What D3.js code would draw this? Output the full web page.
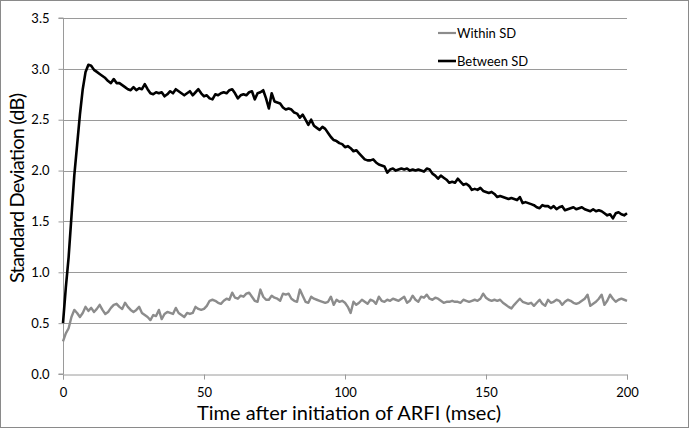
<!DOCTYPE html>
<html>
<head>
<meta charset="utf-8">
<script src="https://cdn.jsdelivr.net/npm/d3@7"></script>
<style>
  html, body { margin: 0; padding: 0; background: #fff; }
  svg { display: block; font-family: Lato, "Open Sans", sans-serif; }
</style>
</head>
<body>
<div id="chart"></div>
<script>
// time after ARFI (msec), one sample per msec
const timeMs = d3.range(0, 201);

const betweenSD = [
  0.50, 0.85, 1.15, 1.55, 1.95, 2.25, 2.55, 2.80, 2.97, 3.04,
  3.03, 2.99, 2.97, 2.95, 2.93, 2.91, 2.88, 2.86, 2.90, 2.86,
  2.86, 2.84, 2.82, 2.80, 2.79, 2.82, 2.79, 2.81, 2.80, 2.85,
  2.80, 2.76, 2.75, 2.77, 2.76, 2.77, 2.73, 2.75, 2.78, 2.76,
  2.80, 2.78, 2.76, 2.74, 2.76, 2.78, 2.74, 2.77, 2.80, 2.76,
  2.73, 2.74, 2.71, 2.70, 2.75, 2.74, 2.76, 2.77, 2.76, 2.79,
  2.80, 2.76, 2.71, 2.74, 2.75, 2.74, 2.77, 2.78, 2.70, 2.76,
  2.77, 2.79, 2.71, 2.61, 2.76, 2.68, 2.67, 2.66, 2.62, 2.60,
  2.61, 2.60, 2.57, 2.56, 2.52, 2.55, 2.50, 2.45, 2.50, 2.44,
  2.42, 2.40, 2.43, 2.41, 2.37, 2.33, 2.30, 2.29, 2.27, 2.26,
  2.23, 2.24, 2.22, 2.19, 2.20, 2.17, 2.14, 2.11, 2.10, 2.10,
  2.11, 2.08, 2.06, 2.05, 2.04, 1.98, 2.01, 2.02, 2.00, 2.01,
  2.02, 2.01, 2.02, 2.00, 2.01, 2.00, 2.01, 2.00, 1.99, 2.02,
  2.01, 1.97, 1.95, 1.92, 1.95, 1.93, 1.91, 1.88, 1.89, 1.88,
  1.92, 1.89, 1.86, 1.87, 1.85, 1.81, 1.82, 1.81, 1.83, 1.80,
  1.79, 1.78, 1.79, 1.77, 1.74, 1.75, 1.74, 1.73, 1.72, 1.73,
  1.72, 1.71, 1.74, 1.68, 1.69, 1.68, 1.67, 1.66, 1.64, 1.63,
  1.66, 1.65, 1.65, 1.63, 1.65, 1.62, 1.64, 1.65, 1.61, 1.62,
  1.63, 1.64, 1.62, 1.63, 1.64, 1.62, 1.61, 1.60, 1.62, 1.60,
  1.61, 1.60, 1.58, 1.56, 1.57, 1.53, 1.58, 1.59, 1.57, 1.56,
  1.58
];

const withinSD = [
  0.32, 0.40, 0.45, 0.56, 0.63, 0.60, 0.56, 0.60, 0.66, 0.62,
  0.65, 0.61, 0.64, 0.68, 0.63, 0.59, 0.61, 0.65, 0.68, 0.69,
  0.66, 0.64, 0.70, 0.66, 0.63, 0.61, 0.63, 0.66, 0.60, 0.58,
  0.56, 0.53, 0.58, 0.57, 0.63, 0.54, 0.59, 0.61, 0.60, 0.59,
  0.65, 0.60, 0.58, 0.56, 0.60, 0.59, 0.60, 0.66, 0.64, 0.63,
  0.64, 0.67, 0.72, 0.73, 0.72, 0.70, 0.69, 0.72, 0.74, 0.73,
  0.80, 0.75, 0.74, 0.77, 0.76, 0.79, 0.80, 0.76, 0.72, 0.71,
  0.83, 0.76, 0.73, 0.73, 0.77, 0.75, 0.74, 0.72, 0.79, 0.78,
  0.79, 0.74, 0.72, 0.71, 0.83, 0.77, 0.71, 0.70, 0.76, 0.74,
  0.73, 0.72, 0.71, 0.70, 0.71, 0.76, 0.68, 0.73, 0.71, 0.72,
  0.70, 0.66, 0.60, 0.71, 0.68, 0.70, 0.73, 0.71, 0.69, 0.73,
  0.72, 0.69, 0.76, 0.72, 0.71, 0.73, 0.72, 0.74, 0.73, 0.72,
  0.74, 0.76, 0.70, 0.72, 0.77, 0.73, 0.71, 0.76, 0.75, 0.78,
  0.74, 0.73, 0.75, 0.74, 0.72, 0.70, 0.71, 0.71, 0.72, 0.71,
  0.71, 0.70, 0.73, 0.72, 0.71, 0.72, 0.73, 0.72, 0.74, 0.79,
  0.75, 0.73, 0.72, 0.73, 0.72, 0.73, 0.70, 0.68, 0.66, 0.645,
  0.68, 0.71, 0.74, 0.71, 0.70, 0.69, 0.70, 0.67, 0.70, 0.73,
  0.69, 0.67, 0.73, 0.70, 0.71, 0.73, 0.72, 0.68, 0.71, 0.73,
  0.72, 0.70, 0.69, 0.70, 0.72, 0.74, 0.78, 0.67, 0.69, 0.71,
  0.74, 0.78, 0.68, 0.72, 0.78, 0.74, 0.71, 0.73, 0.74, 0.73,
  0.72
];

const xTicks = [0, 50, 100, 150, 200];
const yTicks = [0, 0.5, 1.0, 1.5, 2.0, 2.5, 3.0, 3.5];

const seriesList = [
  { name: 'Within SD', values: withinSD, color: '#8c8c8c' },
  { name: 'Between SD', values: betweenSD, color: '#000000' }
];

const width = 689;
const height = 428;
const margin = { top: 18, right: 62, bottom: 54, left: 63 };

const svg = d3.select('#chart')
  .append('svg')
  .attr('width', width)
  .attr('height', height);

// outer frame
svg.append('rect')
  .attr('x', 0.5).attr('y', 0.5)
  .attr('width', width - 1).attr('height', height - 1)
  .attr('fill', '#fff')
  .attr('stroke', '#8a8a8a');

const x = d3.scaleLinear().domain([0, 200]).range([margin.left, width - margin.right]);
const y = d3.scaleLinear().domain([0, 3.5]).range([height - margin.bottom, margin.top]);

// gridlines
svg.append('g')
  .selectAll('line')
  .data(yTicks.filter(d => d > 0))
  .join('line')
  .attr('x1', x(0)).attr('x2', x(200))
  .attr('y1', d => Math.round(y(d)) + 0.5).attr('y2', d => Math.round(y(d)) + 0.5)
  .attr('stroke', '#9a9a9a')
  .attr('stroke-width', 1);

// axes
const yAxis = svg.append('g')
  .attr('transform', `translate(${x(0) + 0.5},0)`)
  .call(d3.axisLeft(y).tickValues(yTicks).tickFormat(d3.format('.1f')).tickSize(5).tickPadding(9));

const xAxis = svg.append('g')
  .attr('transform', `translate(0,${Math.round(y(0)) + 0.5})`)
  .call(d3.axisBottom(x).tickValues(xTicks).tickSize(5).tickPadding(8));

[yAxis, xAxis].forEach(a => {
  a.select('.domain').attr('stroke', '#9a9a9a');
  a.selectAll('.tick line').attr('stroke', '#9a9a9a');
  a.selectAll('.tick text')
    .attr('fill', '#000')
    .style('font-size', '13px')
    .style('font-family', 'Lato, "Open Sans", sans-serif');
});
yAxis.select('.domain').attr('d', `M-5,${y(0)}H0V${y(3.5)}H-5`);

// series lines
const line = d3.line()
  .x((d, i) => x(timeMs[i]))
  .y(d => y(d))
  .curve(d3.curveLinear);

svg.append('g')
  .selectAll('path')
  .data(seriesList)
  .join('path')
  .attr('d', d => line(d.values))
  .attr('fill', 'none')
  .attr('stroke', d => d.color)
  .attr('stroke-width', d => d.name === 'Between SD' ? 2.6 : 2.4)
  .attr('stroke-linejoin', 'round');

// legend
const legend = svg.append('g')
  .selectAll('g')
  .data(seriesList)
  .join('g')
  .attr('transform', (d, i) => `translate(438,${33 + i * 28})`);

legend.append('line')
  .attr('x1', 0).attr('x2', 18)
  .attr('stroke', d => d.color)
  .attr('stroke-width', d => d.name === 'Between SD' ? 2.6 : 2.2);

legend.append('text')
  .attr('x', 19)
  .attr('dy', '0.35em')
  .style('font-size', '13px')
  .text(d => d.name);

// axis titles
svg.append('text')
  .attr('x', 349)
  .attr('y', 420)
  .attr('text-anchor', 'middle')
  .style('font-size', '20px')
  .attr('textLength', 304)
  .text('Time after initiation of ARFI (msec)');

svg.append('text')
  .attr('transform', 'translate(24,188) rotate(-90)')
  .attr('text-anchor', 'middle')
  .style('font-size', '20px')
  .attr('textLength', 190)
  .text('Standard Deviation (dB)');
</script>
</body>
</html>
